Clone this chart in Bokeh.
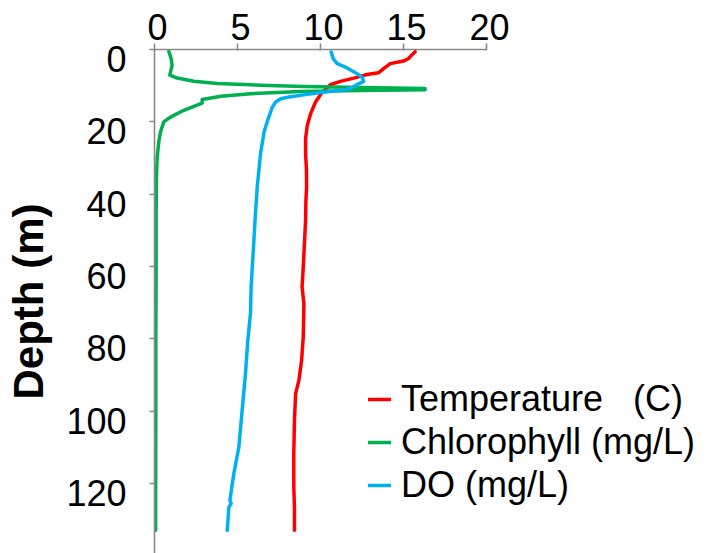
from bokeh.plotting import figure
from bokeh.models import Range1d, LinearAxis, FixedTicker, Legend, LegendItem
from bokeh.embed import file_html
from bokeh.resources import INLINE

# ---- data ----
temp_depth = [0.6, 1.5, 2.5, 3.2, 3.9, 5.3, 6.4, 6.9, 7.9, 8.8, 9.7, 11.8, 14.5, 17.8, 21.0, 24.7,
              28.7, 33.0, 37.9, 42.0, 47.2, 52.0, 56.4, 61.0, 65.6, 70.2, 75.0, 79.4, 85.9, 91.4,
              95.1, 102.5, 111.7, 120.9, 126.5, 132.9]
temp_val = [15.7, 15.5, 15.3, 15.0, 14.2, 13.8, 13.5, 12.8, 12.0, 11.2, 10.6, 10.1, 9.7, 9.4, 9.2, 9.1,
            9.1, 9.15, 9.16, 9.12, 9.1, 9.05, 9.0, 8.95, 8.89, 9.0, 8.98, 8.96, 8.86, 8.7,
            8.5, 8.43, 8.39, 8.39, 8.43, 8.43]

chl_depth = [0.5, 2.5, 4.4, 7.1, 7.9, 8.8, 9.4, 9.7, 10.0, 10.2, 10.5, 10.8, 11.1, 11.3, 11.6,
             12.2, 12.9, 13.8, 14.8, 16.8, 18.7, 20.0, 22.8, 25.4, 30.0, 35.0, 45.0, 60.0, 80.0,
             100.0, 120.0, 132.9]
chl_val = [0.86, 1.0, 1.06, 0.92, 1.37, 2.37, 3.78, 5.4, 7.4, 9.0, 12.5, 16.3, 16.3, 12.5, 8.8,
           5.8, 4.0, 2.87, 2.87, 1.77, 0.96, 0.56, 0.36, 0.26, 0.16, 0.12, 0.1, 0.1, 0.08,
           0.08, 0.07, 0.07]

do_depth = [0.7, 2.5, 3.9, 5.1, 6.4, 7.6, 8.8, 9.7, 10.8, 11.3, 11.8, 12.4, 13.1, 13.6, 14.5,
            15.9, 19.1, 22.8, 28.7, 37.9, 45.3, 56.4, 65.6, 73.0, 80.4, 89.6, 99.7, 109.9,
            117.2, 124.6, 125.5, 126.5, 132.9]
do_val = [10.64, 10.76, 11.0, 11.6, 12.1, 12.5, 12.6, 12.2, 11.8, 11.2, 10.2, 9.2, 8.1, 7.6, 7.3,
          7.1, 6.85, 6.6, 6.39, 6.19, 6.08, 5.94, 5.82, 5.78, 5.62, 5.48, 5.28, 5.08,
          4.78, 4.54, 4.62, 4.48, 4.38]

series_names = ["Temperature   (C)", "Chlorophyll (mg/L)", "DO (mg/L)"]
series_colors = ["#FF0000", "#00B050", "#00B0F0"]
x_ticks = [0, 5, 10, 15, 20]
y_ticks = [0, 20, 40, 60, 80, 100, 120]
y_title = "Depth (m)"

FONT = "Liberation Sans"
AXC = "#898989"
X_END = 33.37
Y_END = 139.3
DX = 0.18   # label shift (data units) to mimic reference label placement
DY = 2.63

p = figure(width=708, height=553, output_backend="svg", toolbar_location=None,
           x_range=Range1d(0, X_END), y_range=Range1d(Y_END, 0),
           x_axis_location=None, y_axis_location=None,
           min_border_left=154, min_border_top=49, min_border_right=0, min_border_bottom=0)
p.outline_line_color = None
p.grid.visible = False
p.background_fill_color = "white"
p.border_fill_color = "white"

p.extra_x_ranges = {"xlab": Range1d(-DX, X_END - DX)}
p.extra_y_ranges = {"ylab": Range1d(Y_END - DY, -DY)}

# tick-only axes (axis line + tick marks, no labels)
ax_x = LinearAxis(ticker=FixedTicker(ticks=[], minor_ticks=x_ticks), bounds=(0, 20),
                  major_tick_out=0, major_tick_in=0, major_label_standoff=0,
                  minor_tick_out=6, minor_tick_in=1,
                  axis_line_color=AXC, minor_tick_line_color=AXC, major_tick_line_color=None,
                  axis_line_width=1.6, minor_tick_line_width=1.6)
p.add_layout(ax_x, "above")
ax_y = LinearAxis(ticker=FixedTicker(ticks=[], minor_ticks=y_ticks),
                  major_tick_out=0, major_tick_in=0, major_label_standoff=0,
                  minor_tick_out=5, minor_tick_in=0,
                  axis_line_color=AXC, minor_tick_line_color=AXC, major_tick_line_color=None,
                  axis_line_width=1.6, minor_tick_line_width=1.6)
p.add_layout(ax_y, "left")

# label axes
lab_x = LinearAxis(x_range_name="xlab", ticker=FixedTicker(ticks=x_ticks),
                   axis_line_color=None, major_tick_line_color=None, minor_tick_line_color=None,
                   major_tick_out=0, major_tick_in=0, major_label_standoff=4,
                   major_label_text_font=FONT, major_label_text_font_size="36px",
                   major_label_text_color="black", major_label_text_baseline="bottom")
p.add_layout(lab_x, "above")
lab_y = LinearAxis(y_range_name="ylab", ticker=FixedTicker(ticks=y_ticks),
                   axis_line_color=None, major_tick_line_color=None, minor_tick_line_color=None,
                   major_tick_out=0, major_tick_in=0, major_label_standoff=23,
                   major_label_text_font=FONT, major_label_text_font_size="36px",
                   major_label_text_color="black", major_label_text_align="center",
                   axis_label=y_title, axis_label_text_font=FONT,
                   axis_label_text_font_size="42px", axis_label_text_font_style="bold",
                   axis_label_text_color="black", axis_label_standoff=11)
p.add_layout(lab_y, "left")

renderers = []
for xs, ys, c in [(temp_val, temp_depth, series_colors[0]),
                  (chl_val, chl_depth, series_colors[1]),
                  (do_val, do_depth, series_colors[2])]:
    r = p.line(xs, ys, line_color=c, line_width=3.5, line_join="round", line_cap="round")
    renderers.append(r)

legend = Legend(items=[LegendItem(label=n, renderers=[r]) for n, r in zip(series_names, renderers)],
                location=(214, 47), padding=0, margin=0, spacing=1,
                glyph_width=23, glyph_height=20, label_height=42, label_standoff=10,
                label_text_font=FONT, label_text_font_size="36px", label_text_color="black",
                border_line_color=None, background_fill_alpha=0)
p.add_layout(legend, "center")

open("out.html", "w").write(file_html(p, INLINE))
